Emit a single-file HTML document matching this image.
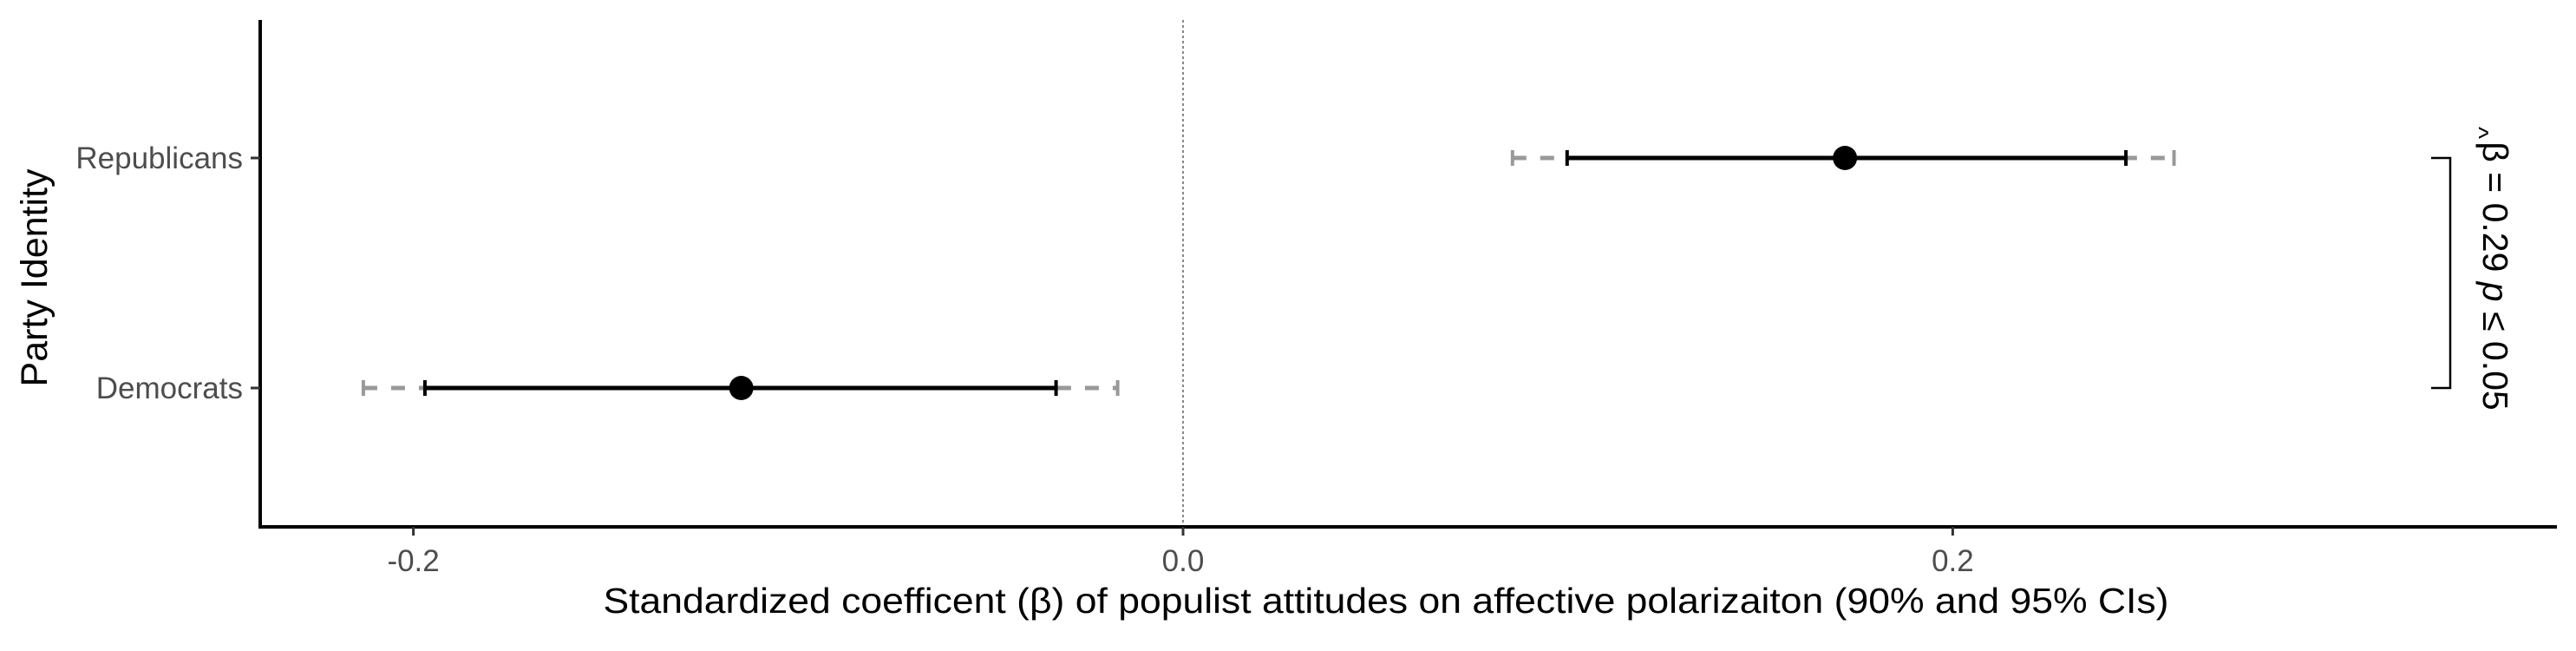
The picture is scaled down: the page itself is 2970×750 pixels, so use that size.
<!DOCTYPE html>
<html><head><meta charset="utf-8"><style>
html,body{margin:0;padding:0;background:#fff;}
svg{display:block;font-family:"Liberation Sans",Arial,sans-serif;}
</style></head><body>
<svg id="chart" width="2970" height="750" viewBox="0 0 2970 750" xmlns="http://www.w3.org/2000/svg">
<g id="zero"></g>
<g id="axes"></g>
<g id="marks"></g>
<g id="ann"></g>
</svg>
<script>
const categories = ["Democrats", "Republicans"];
const estimates = [-0.1148, 0.172];
const ci90Low = [-0.197, 0.0998];
const ci90High = [-0.033, 0.245];
const ci95Low = [-0.213, 0.0856];
const ci95High = [-0.017, 0.2575];
const xTicks = [-0.2, 0.0, 0.2];
const xTickLabels = ["-0.2", "0.0", "0.2"];
const annotationText = ["β = 0.29 ", "p", " ≤ 0.05"];

const NS = "http://www.w3.org/2000/svg";
const X0 = 1364, XPER = 4437;
const x = v => X0 + v * XPER;
const yPos = {"Democrats": 447, "Republicans": 182};
const y = c => yPos[c];
function mk(parent, tag, attrs) {
  const e = document.createElementNS(NS, tag);
  for (const k in attrs) e.setAttribute(k, attrs[k]);
  document.getElementById(parent).appendChild(e);
  return e;
}
let zl = mk("zero", "line", {x1: x(0), x2: x(0), y1: 23, y2: 607, stroke: "#888", "stroke-width": 2, "stroke-dasharray": "3 3"});


let ya = mk("axes", "line", {x1: 300, x2: 300, y1: 23, y2: 609, stroke: "#000", "stroke-width": 4});


let xa = mk("axes", "line", {x1: 298, x2: 2948, y1: 607, y2: 607, stroke: "#000", "stroke-width": 4});


xTicks.forEach((t, i) => {
  let tk = mk("axes", "line", {x1: x(t), x2: x(t), y1: 607, y2: 617, stroke: "#333", "stroke-width": 3});
  
  
  let tl = mk("axes", "text", {x: x(t), y: 658, "text-anchor": "middle", "font-size": 35, fill: "#4d4d4d"});
  tl.textContent = xTickLabels[i];
  
  
});
categories.forEach(c => {
  let tk = mk("axes", "line", {x1: 289, x2: 300, y1: y(c), y2: y(c), stroke: "#333", "stroke-width": 3});
  
  
  let tl = mk("axes", "text", {x: 280, y: y(c) + 12, "text-anchor": "end", "font-size": 35, fill: "#4d4d4d"});
  tl.textContent = c;
  
  
});
let xt = mk("axes", "text", {x: 1598, y: 706, "text-anchor": "middle", "font-size": 41, fill: "#000", textLength: 1805, lengthAdjust: "spacingAndGlyphs"});
xt.textContent = "Standardized coefficent (β) of populist attitudes on affective polarizaiton (90% and 95% CIs)";


let yt = mk("axes", "text", {x: 0, y: 0, "text-anchor": "middle", "font-size": 43, fill: "#000", transform: "translate(54,320) rotate(-90)"});
yt.textContent = "Party Identity";


categories.forEach((c, i) => {
  const yy = y(c);
  let g95 = mk("marks", "line", {x1: x(ci95Low[i]), x2: x(ci95High[i]), y1: yy, y2: yy, stroke: "#999", "stroke-width": 5, "stroke-dasharray": "16 16"});
  
  
  [ci95Low[i], ci95High[i]].forEach(v => {
    let cp = mk("marks", "line", {x1: x(v), x2: x(v), y1: yy - 9, y2: yy + 9, stroke: "#999", "stroke-width": 4});
    
    
  });
  let b90 = mk("marks", "line", {x1: x(ci90Low[i]), x2: x(ci90High[i]), y1: yy, y2: yy, stroke: "#000", "stroke-width": 5});
  
  
  [ci90Low[i], ci90High[i]].forEach(v => {
    let cp = mk("marks", "line", {x1: x(v), x2: x(v), y1: yy - 9, y2: yy + 9, stroke: "#000", "stroke-width": 4});
    
    
  });
  let pt = mk("marks", "circle", {cx: x(estimates[i]), cy: yy, r: 14, fill: "#000"});
  
  
});
let br = mk("ann", "path", {d: `M2803 ${y("Republicans")} H2825 V${y("Democrats")} H2803`, fill: "none", stroke: "#000", "stroke-width": 2.5});


let at = mk("ann", "text", {x: 0, y: 0, "text-anchor": "middle", "font-size": 41, fill: "#000", transform: "translate(2863,318) rotate(90)"});


annotationText.forEach((s, i) => {
  const ts = document.createElementNS(NS, "tspan");
  ts.textContent = s;
  if (i === 1) ts.setAttribute("font-style", "italic");
  at.appendChild(ts);
});
let hat = mk("ann", "text", {x: 0, y: 0, "text-anchor": "start", "font-size": 30, fill: "#000", transform: "translate(2848,146) rotate(90)"});
hat.textContent = "^";


</script>
</body></html>
